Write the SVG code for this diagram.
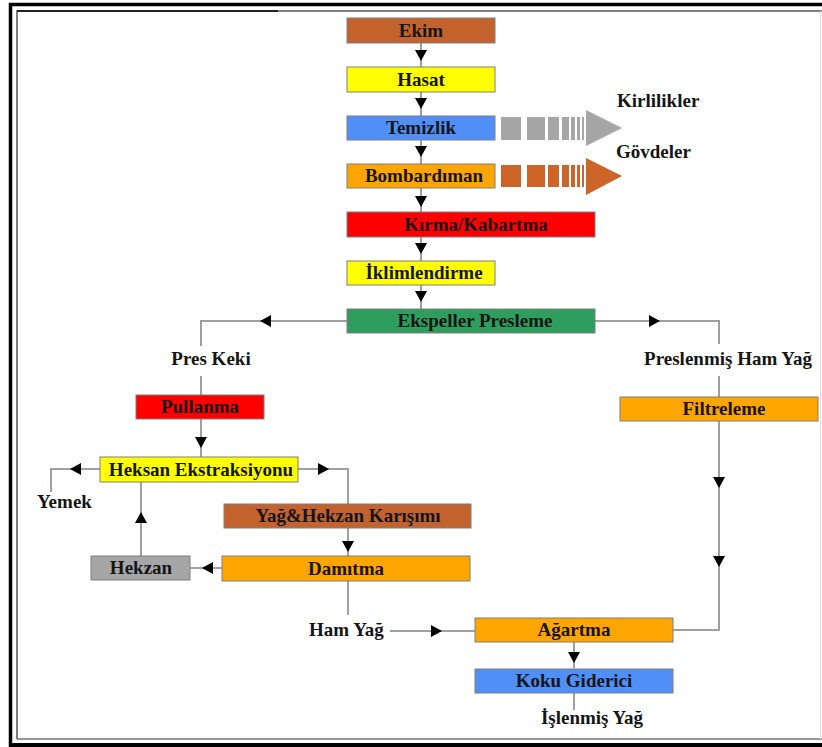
<svg xmlns="http://www.w3.org/2000/svg" width="822" height="747" viewBox="0 0 822 747">
<style>
.box{stroke:#7f7f7f;stroke-width:1}
.t{font-family:"Liberation Serif","Times New Roman",serif;font-weight:bold;font-size:19px;fill:#151515;text-anchor:middle}
.l{font-family:"Liberation Serif","Times New Roman",serif;font-weight:bold;font-size:19px;fill:#151515}
.c{fill:none;stroke:#a0a0a0;stroke-width:2}
.brown{fill:#c4622d}.yellow{fill:#ffff00}.blue{fill:#4f8ff7}.orange{fill:#ffa500}.red{fill:#ff0000}.green{fill:#2e9e5f}.gray{fill:#a6a6a6}
</style>
<defs>
<path id="ad" d="M-6,-11 L6,-11 L0,0 Z" fill="#000"/>
</defs>
<rect width="822" height="747" fill="#fff"/>
<!-- frame -->
<g id="frame" fill="none">
<path d="M10.5,747 V4.5 H822" stroke="#000" stroke-width="3.5"/>
<path d="M10,745 H822" stroke="#000" stroke-width="4"/>
<path d="M17,739 V11 H822" stroke="#555" stroke-width="1.5"/>
<path d="M17,739 H822" stroke="#777" stroke-width="1.5"/>
<path d="M17,11 H278" stroke="#222" stroke-width="2"/>
<path d="M820.5,11 V739" stroke="#ddd" stroke-width="1"/>
</g>
<!-- connectors -->
<g id="connectors">
<path class="c" d="M421,43 V309"/>
<path class="c" d="M347,321 H201 V346 M201,376 V395"/>
<path class="c" d="M595,321 H719 V344 M719,376 V397"/>
<path class="c" d="M719,421 V630 H673"/>
<path class="c" d="M201,419 V457"/>
<path class="c" d="M100,469 H51 V492"/>
<path class="c" d="M298,469 H348 V504"/>
<path class="c" d="M348,528 V556"/>
<path class="c" d="M222,568 H190"/>
<path class="c" d="M141,556 V482"/>
<path class="c" d="M348,581 V615"/>
<path class="c" d="M390,631 H475"/>
<path class="c" d="M574,642 V668"/>
<path class="c" d="M574,693 V710"/>
<use href="#ad" x="421" y="61"/>
<use href="#ad" x="421" y="109"/>
<use href="#ad" x="421" y="157"/>
<use href="#ad" x="421" y="207"/>
<use href="#ad" x="421" y="254"/>
<use href="#ad" x="421" y="302"/>
<use href="#ad" transform="translate(260,321) rotate(90)"/>
<use href="#ad" transform="translate(660,321) rotate(-90)"/>
<use href="#ad" x="201" y="448"/>
<use href="#ad" transform="translate(70,469) rotate(90)"/>
<use href="#ad" transform="translate(329,469) rotate(-90)"/>
<use href="#ad" x="348" y="552"/>
<use href="#ad" transform="translate(202,568) rotate(90)"/>
<use href="#ad" transform="translate(141,512) rotate(180)"/>
<use href="#ad" transform="translate(442,631) rotate(-90)"/>
<use href="#ad" x="574" y="663"/>
<use href="#ad" x="719" y="488"/>
<use href="#ad" x="719" y="567"/>
</g>
<!-- waste arrows -->
<g id="kirlilik-arrow" fill="#a6a6a6">
<rect x="501" y="117" width="20" height="23"/>
<rect x="527" y="117" width="18" height="23"/>
<rect x="548" y="117" width="11" height="23"/>
<rect x="562" y="117" width="7" height="23"/>
<rect x="571" y="117" width="4" height="23"/>
<rect x="577" y="117" width="3" height="23"/>
<rect x="582" y="117" width="2" height="23"/>
<path d="M586,110 L622,128 L586,146 Z"/>
</g>
<g id="govde-arrow" fill="#cd6428">
<rect x="501" y="165" width="20" height="22"/>
<rect x="527" y="165" width="18" height="22"/>
<rect x="548" y="165" width="11" height="22"/>
<rect x="562" y="165" width="7" height="22"/>
<rect x="571" y="165" width="4" height="22"/>
<rect x="577" y="165" width="3" height="22"/>
<rect x="582" y="165" width="2" height="22"/>
<path d="M586,158 L622,176 L586,195 Z"/>
</g>
<!-- nodes -->
<g id="ekim"><rect class="box brown" x="347" y="18" width="148" height="25"/><text class="t" x="421" y="37">Ekim</text></g>
<g id="hasat"><rect class="box yellow" x="347" y="67" width="148" height="25"/><text class="t" x="421" y="86">Hasat</text></g>
<g id="temizlik"><rect class="box blue" x="347" y="116" width="148" height="24"/><text class="t" x="421" y="134">Temizlik</text></g>
<g id="bombardiman"><rect class="box orange" x="347" y="164" width="148" height="24"/><text class="t" x="424" y="182">Bombardıman</text></g>
<g id="kirma"><rect class="box red" x="347" y="212" width="248" height="25"/><text class="t" x="476" y="231">Kırma/Kabartma</text></g>
<g id="iklimlendirme"><rect class="box yellow" x="347" y="261" width="148" height="24"/><text class="t" x="424" y="279">İklimlendirme</text></g>
<g id="ekspeller"><rect class="box green" x="347" y="309" width="248" height="24"/><text class="t" x="475" y="327">Ekspeller Presleme</text></g>
<g id="pullanma"><rect class="box red" x="136" y="395" width="128" height="24"/><text class="t" x="200" y="413">Pullanma</text></g>
<g id="heksan-ekstraksiyonu"><rect class="box yellow" x="100" y="457" width="198" height="25"/><text class="t" x="201" y="476">Heksan Ekstraksiyonu</text></g>
<g id="yag-hekzan"><rect class="box brown" x="224" y="504" width="247" height="24"/><text class="t" x="348" y="522">Yağ&amp;Hekzan Karışımı</text></g>
<g id="hekzan"><rect class="box gray" x="91" y="556" width="99" height="24"/><text class="t" x="141" y="574">Hekzan</text></g>
<g id="damitma"><rect class="box orange" x="222" y="556" width="248" height="25"/><text class="t" x="346" y="575">Damıtma</text></g>
<g id="filtreleme"><rect class="box orange" x="620" y="397" width="198" height="24"/><text class="t" x="724" y="415">Filtreleme</text></g>
<g id="agartma"><rect class="box orange" x="475" y="618" width="198" height="24"/><text class="t" x="574" y="636">Ağartma</text></g>
<g id="koku"><rect class="box blue" x="475" y="669" width="198" height="24"/><text class="t" x="574" y="687">Koku Giderici</text></g>
<!-- labels -->
<g id="labels">
<text class="l" x="617" y="107">Kirlilikler</text>
<text class="l" x="616" y="158">Gövdeler</text>
<text class="t" x="211" y="365">Pres Keki</text>
<text class="t" x="728" y="365">Preslenmiş Ham Yağ</text>
<text class="l" x="37" y="508">Yemek</text>
<text class="l" x="309" y="636">Ham Yağ</text>
<text class="t" x="592" y="724">İşlenmiş Yağ</text>
</g>
</svg>
